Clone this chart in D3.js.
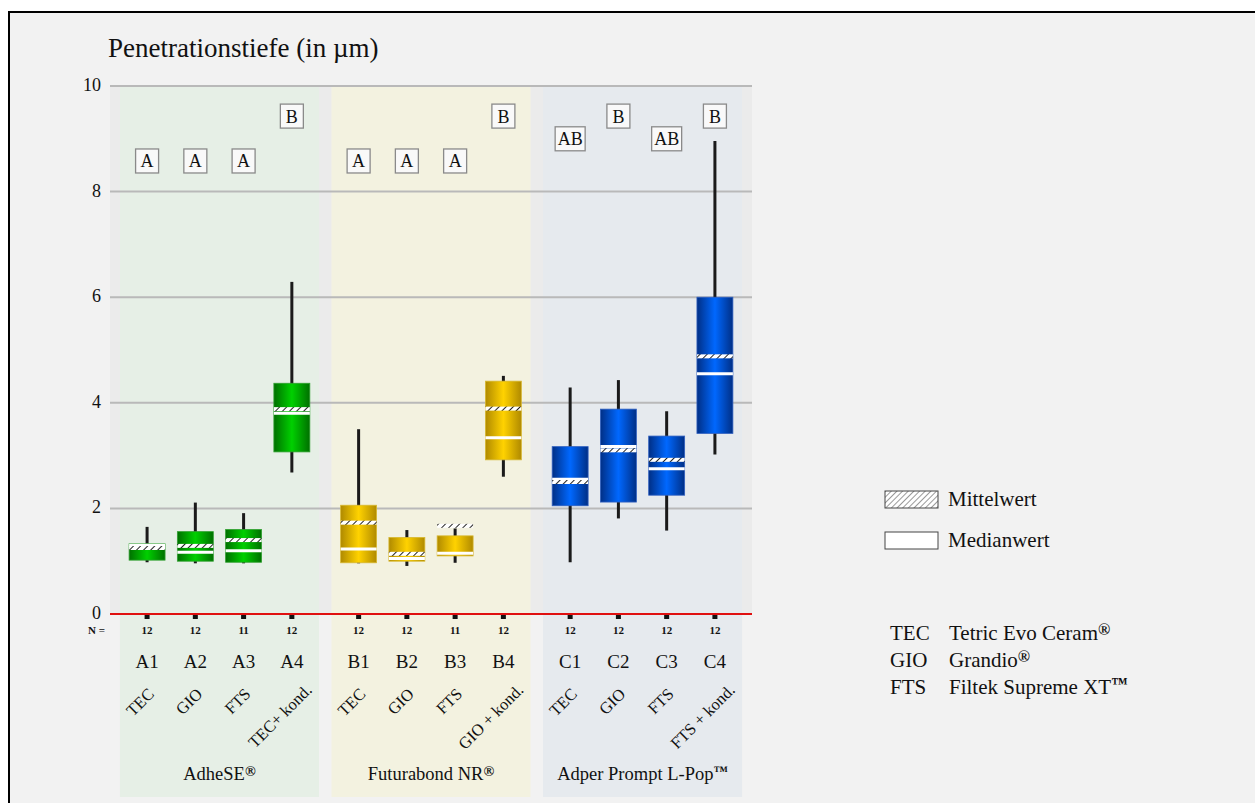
<!DOCTYPE html>
<html><head><meta charset="utf-8">
<script src="https://cdn.jsdelivr.net/npm/d3@7"></script>
<style>
html,body{margin:0;padding:0;background:#fff;}
svg{display:block;}
text{font-family:"Liberation Serif","DejaVu Serif",serif;fill:#111;}
</style></head>
<body>
<svg id="chart" width="1255" height="803"></svg>
<script>
// ---- data ----
const groups = ["AdheSE®", "Futurabond NR®", "Adper Prompt L-Pop™"];
const codes = ["A1","A2","A3","A4","B1","B2","B3","B4","C1","C2","C3","C4"];
const materials = ["TEC","GIO","FTS","TEC+ kond.","TEC","GIO","FTS","GIO + kond.","TEC","GIO","FTS","FTS + kond."];
const nValues = [12,12,11,12,12,12,11,12,12,12,12,12];
const whiskerLow  = [0.98,0.96,0.96,2.68,0.96,0.91,0.97,2.60,0.98,1.81,1.58,3.02];
const q1          = [1.02,1.00,0.98,3.07,0.97,1.00,1.10,2.92,2.05,2.12,2.25,3.42];
const median      = [1.30,1.17,1.20,3.80,1.23,1.05,1.15,3.34,2.55,3.17,2.75,4.55];
const mean        = [1.25,1.29,1.40,3.88,1.73,1.14,1.67,3.89,2.50,3.10,2.92,4.88];
const q3          = [1.33,1.56,1.60,4.37,2.06,1.45,1.48,4.41,3.17,3.88,3.37,6.00];
const whiskerHigh = [1.65,2.11,1.91,6.29,3.50,1.59,1.62,4.51,4.29,4.43,3.84,8.96];
const letters = ["A","A","A","B","A","A","A","B","AB","B","AB","B"];
const letterLevel = {"A": 8.58, "AB": 9.0, "B": 9.43};
const yTicks = [0,2,4,6,8,10];
const legendItems = ["Mittelwert","Medianwert"];
const abbrevs = ["TEC","GIO","FTS"];
const abbrevNames = ["Tetric Evo Ceram®","Grandio®","Filtek Supreme XT™"];

// ---- styles ----
const panelFill = ["#e6efe6","#f3f2e0","#e6eaee"];
const boxEdge   = ["#007000","#b08a00","#002f86"];
const boxMid    = ["#00d000","#ffd200","#0068ff"];
const boxStroke = ["#30a030","#d8b830","#3060c0"];

const svg = d3.select("#chart");
const defs = svg.append("defs");

// text with superscript ® / ™
function richText(sel, accessor){
  sel.each(function(d,i){
    const s = accessor(d,i);
    const t = d3.select(this);
    const m = s.match(/^(.*?)([®™])$/);
    if(m){
      t.append("tspan").text(m[1]);
      t.append("tspan").attr("font-size","78%").attr("font-weight","bold").attr("dy","-0.3em").text(m[2]);
    } else t.text(s);
  });
}

// frame
svg.append("rect").attr("x",9).attr("y",12).attr("width",1260).attr("height",800)
  .attr("fill","#f2f2f2").attr("stroke","#000").attr("stroke-width",2);

const plotL = 110, plotR = 752, plotT = 86, plotB = 614, panelBottom = 797;
const y = d3.scaleLinear().domain([0,10]).range([plotB, plotT]);

const xg = d3.scaleBand().domain(groups).range([plotL, plotR]).paddingInner(0.059).paddingOuter(0.047);
const xi = d3.scaleBand().domain([0,1,2,3]).range([0, xg.bandwidth()]).paddingInner(0.255).paddingOuter(0.19);

const idx = d3.range(codes.length);
const gOf = i => Math.floor(i/4);
const cx = i => xg(groups[gOf(i)]) + xi(i%4) + xi.bandwidth()/2;
const bw = xi.bandwidth();

// gradients
groups.forEach((g,k)=>{
  const gr = defs.append("linearGradient").attr("id","grad"+k).attr("x1","0%").attr("x2","100%");
  gr.append("stop").attr("offset","0%").attr("stop-color",boxEdge[k]);
  gr.append("stop").attr("offset","50%").attr("stop-color",boxMid[k]);
  gr.append("stop").attr("offset","100%").attr("stop-color",boxEdge[k]);
});
// hatch pattern
const pat = defs.append("pattern").attr("id","hatch").attr("patternUnits","userSpaceOnUse")
  .attr("width",5).attr("height",5).attr("patternTransform","rotate(45)");
pat.append("rect").attr("width",5).attr("height",5).attr("fill","#fff");
pat.append("line").attr("x1",0).attr("y1",0).attr("x2",0).attr("y2",5).attr("stroke","#222").attr("stroke-width",2);
const pat2 = defs.append("pattern").attr("id","hatchL").attr("patternUnits","userSpaceOnUse")
  .attr("width",4).attr("height",4).attr("patternTransform","rotate(45)");
pat2.append("rect").attr("width",4).attr("height",4).attr("fill","#fff");
pat2.append("line").attr("x1",0).attr("y1",0).attr("x2",0).attr("y2",4).attr("stroke","#555").attr("stroke-width",1.2);

// plot background
svg.append("rect").attr("x",plotL).attr("y",plotT).attr("width",plotR-plotL).attr("height",plotB-plotT).attr("fill","#ebebeb");
// panels
svg.selectAll("rect.panel").data(groups).join("rect").attr("class","panel")
  .attr("x",d=>xg(d)).attr("y",plotT).attr("width",xg.bandwidth()).attr("height",panelBottom-plotT)
  .attr("fill",(d,k)=>panelFill[k]);

// grid
svg.selectAll("line.grid").data(yTicks.filter(t=>t>0)).join("line").attr("class","grid")
  .attr("x1",plotL).attr("x2",plotR).attr("y1",d=>y(d)).attr("y2",d=>y(d))
  .attr("stroke","#b9b9b9").attr("stroke-width",2);

// y axis labels
const yAxis = d3.axisLeft(y).tickValues(yTicks).tickSize(0).tickPadding(0);
const ya = svg.append("g").attr("transform",`translate(${plotL-9},0)`).call(yAxis);
ya.select(".domain").remove();
ya.selectAll("text").attr("font-family","'Liberation Sans',sans-serif").attr("font-size",18).attr("fill","#333").attr("dy","0.25em");

// title
svg.append("text").attr("x",108).attr("y",57).attr("font-size",27).text("Penetrationstiefe (in µm)");

// whiskers
svg.selectAll("line.wh").data(idx).join("line").attr("class","wh")
  .attr("x1",cx).attr("x2",cx).attr("y1",i=>y(whiskerLow[i])).attr("y2",i=>y(whiskerHigh[i]))
  .attr("stroke","#1a1a1a").attr("stroke-width",3);
// boxes
svg.selectAll("rect.box").data(idx).join("rect").attr("class","box")
  .attr("x",i=>cx(i)-bw/2).attr("width",bw)
  .attr("y",i=>y(q3[i])).attr("height",i=>y(q1[i])-y(q3[i]))
  .attr("fill",i=>`url(#grad${gOf(i)})`).attr("stroke",i=>boxStroke[gOf(i)]).attr("stroke-width",0.8);
// median
svg.selectAll("line.med").data(idx).join("line").attr("class","med")
  .attr("x1",i=>cx(i)-bw/2).attr("x2",i=>cx(i)+bw/2).attr("y1",i=>y(median[i])).attr("y2",i=>y(median[i]))
  .attr("stroke","#fff").attr("stroke-width",3);
// mean
svg.selectAll("rect.mean").data(idx).join("rect").attr("class","mean")
  .attr("x",i=>cx(i)-bw/2).attr("width",bw).attr("y",i=>y(mean[i])-2).attr("height",4)
  .attr("fill","url(#hatch)");

// letter boxes
const lg = svg.selectAll("g.letter").data(idx).join("g").attr("class","letter")
  .attr("transform",i=>`translate(${cx(i)},${y(letterLevel[letters[i]])})`);
lg.append("rect").attr("x",i=>letters[i].length>1?-15:-11.5).attr("width",i=>letters[i].length>1?30:23)
  .attr("y",-12).attr("height",24).attr("fill","#f9f9f9").attr("stroke","#8a8a8a").attr("stroke-width",1.3);
lg.append("text").attr("text-anchor","middle").attr("y",6.5).attr("font-size",18).text(i=>letters[i]);

// zero line (red) and tick marks
svg.append("line").attr("x1",plotL).attr("x2",plotR).attr("y1",y(0)).attr("y2",y(0)).attr("stroke","#e01010").attr("stroke-width",2);
svg.selectAll("rect.tk").data(idx).join("rect").attr("class","tk")
  .attr("x",i=>cx(i)-2.5).attr("y",y(0)+1).attr("width",5).attr("height",4).attr("fill","#111");

// N labels
svg.append("text").attr("x",88).attr("y",634).attr("font-size",11).attr("font-weight","bold").text("N =");
svg.selectAll("text.n").data(idx).join("text").attr("class","n")
  .attr("x",cx).attr("y",634).attr("text-anchor","middle").attr("font-size",11).attr("font-weight","bold").text(i=>nValues[i]);

// codes
svg.selectAll("text.code").data(idx).join("text").attr("class","code")
  .attr("x",cx).attr("y",668).attr("text-anchor","middle").attr("font-size",19).text(i=>codes[i]);
// rotated material labels
svg.selectAll("text.mat").data(idx).join("text").attr("class","mat")
  .attr("transform",i=>{
    const long = materials[i].length > 5;
    return `translate(${cx(i)+(long?21:8)},${long?691:695}) rotate(-45)`;
  })
  .attr("text-anchor","end").attr("font-size",16.5).text(i=>materials[i]);
// group labels
svg.selectAll("text.grp").data(groups).join("text").attr("class","grp")
  .attr("x",d=>xg(d)+xg.bandwidth()/2).attr("y",780).attr("text-anchor","middle").attr("font-size",18.5)
  .call(richText, d=>d);

// legend
const leg = svg.selectAll("g.leg").data(legendItems).join("g").attr("class","leg")
  .attr("transform",(d,k)=>`translate(885,${491+k*41})`);
leg.append("rect").attr("width",53).attr("height",17).attr("fill",(d,k)=>k===0?"url(#hatchL)":"#fff")
  .attr("stroke","#444").attr("stroke-width",1);
leg.append("text").attr("x",63).attr("y",15).attr("font-size",21).text(d=>d);

// abbreviations
svg.selectAll("text.ab").data(abbrevs).join("text").attr("class","ab")
  .attr("x",890).attr("y",(d,k)=>640+k*27).attr("font-size",21).text(d=>d);
svg.selectAll("text.abn").data(abbrevNames).join("text").attr("class","abn")
  .attr("x",949).attr("y",(d,k)=>640+k*27).attr("font-size",21).call(richText, d=>d);
</script>
</body></html>
